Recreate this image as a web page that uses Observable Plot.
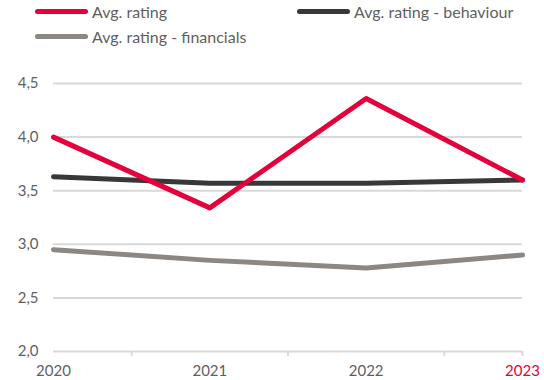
<!DOCTYPE html>
<html>
<head>
<meta charset="utf-8">
<script src="https://cdn.jsdelivr.net/npm/d3@7"></script>
<script src="https://cdn.jsdelivr.net/npm/@observablehq/plot@0.6"></script>
<style>
  html, body { margin: 0; padding: 0; background: #fff; }
  body { width: 544px; height: 380px; overflow: hidden; font-family: Lato, "Open Sans", sans-serif; }
  .legend { position: relative; height: 55px; color: #5f5f5f; font-size: 16px; }
  .item { position: absolute; display: flex; align-items: center; white-space: nowrap; }
  .sw { width: 53px; height: 5px; border-radius: 3px; margin-right: 4px; }
  #chart svg { display: block; }
</style>
</head>
<body>
<div class="legend" id="legend"></div>
<div id="chart"></div>
<script>
const years = [2020, 2021, 2022, 2023];
const seriesNames = ["Avg. rating", "Avg. rating - behaviour", "Avg. rating - financials"];
const avgRating = [4.0, 3.34, 4.36, 3.6];
const avgBehaviour = [3.63, 3.57, 3.57, 3.6];
const avgFinancials = [2.95, 2.85, 2.78, 2.9];
const yTicks = [2.0, 2.5, 3.0, 3.5, 4.0, 4.5];
const colors = ["#e4003b", "#383838", "#8c8782"];

const seriesValues = [avgRating, avgBehaviour, avgFinancials];
const rows = [];
seriesNames.forEach((name, i) => years.forEach((yr, j) => rows.push({series: name, year: yr, value: seriesValues[i][j]})));

// legend
const legendPos = [[35, 2], [297, 2], [35, 27]];
const legend = document.getElementById("legend");
seriesNames.forEach((name, i) => {
  const it = document.createElement("div");
  it.className = "item";
  it.style.left = legendPos[i][0] + "px";
  it.style.top = legendPos[i][1] + "px";
  it.innerHTML = `<span class="sw" style="background:${colors[i]}"></span><span>${name}</span>`;
  legend.appendChild(it);
});

const gray = "#5f5f5f";
const grid = "#d9d9d9";
const fmt = d => d.toFixed(1).replace(".", ",");

const chart = Plot.plot({
  width: 544,
  height: 325,
  marginTop: 28,
  marginBottom: 29,
  marginLeft: 53,
  marginRight: 22,
  style: {fontFamily: "Lato, 'Open Sans', sans-serif", fontSize: "15px", color: gray, background: "#fff"},
  x: {domain: [2020, 2023], axis: null, label: null},
  y: {domain: [2, 4.5], axis: null, label: null},
  marks: [
    Plot.gridY(yTicks, {stroke: grid, strokeOpacity: 1, strokeWidth: 2}),
    Plot.axisY(yTicks, {tickSize: 0, tickPadding: 15, tickFormat: fmt, fill: gray, fontSize: 15, label: null}),
    Plot.axisX([2020.5, 2021.5, 2022.5, 2023], {tickSize: 5, tickFormat: () => "", stroke: grid, strokeWidth: 2, label: null}),
    Plot.text(years, {x: d => d, y: 2, dy: 20, text: d => String(d), fill: d => d === 2023 ? colors[0] : gray, fontSize: 15}),
    Plot.line(rows.filter(r => r.series === seriesNames[2]), {x: "year", y: "value", stroke: colors[2], strokeWidth: 5, strokeLinecap: "round", strokeLinejoin: "round"}),
    Plot.line(rows.filter(r => r.series === seriesNames[1]), {x: "year", y: "value", stroke: colors[1], strokeWidth: 5, strokeLinecap: "round", strokeLinejoin: "round"}),
    Plot.line(rows.filter(r => r.series === seriesNames[0]), {x: "year", y: "value", stroke: colors[0], strokeWidth: 5, strokeLinecap: "round", strokeLinejoin: "round"})
  ]
});
document.getElementById("chart").appendChild(chart);
</script>
</body>
</html>
